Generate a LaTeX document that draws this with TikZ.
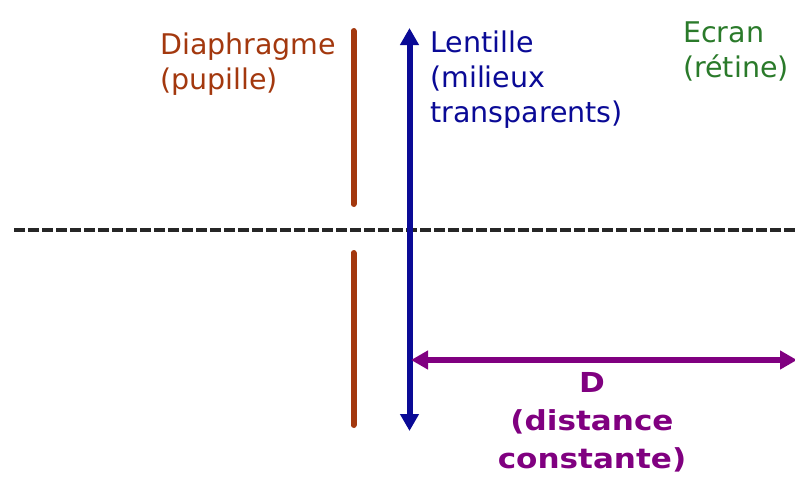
\documentclass[tikz,border=0pt]{standalone}
\usepackage{fontspec}
\setmainfont{DejaVu Sans}
\newfontfamily\dfont[FakeStretch=1.13]{DejaVu Sans}
\usetikzlibrary{arrows.meta}
\definecolor{rust}{HTML}{A3380E}
\definecolor{lensblue}{HTML}{0A0A96}
\definecolor{ecrangreen}{HTML}{2A7A2A}
\definecolor{dpurple}{HTML}{800080}
\definecolor{axisgray}{HTML}{262626}
\begin{document}
\begin{tikzpicture}[x=1pt,y=-1pt,
  lbl/.style={inner sep=0pt, anchor=base west, text width=260pt, align=left,
    font=\fontsize{28.5}{35}\selectfont},
  dlbl/.style={inner sep=0pt, anchor=base, text width=260pt, align=center,
    font=\dfont\bfseries\fontsize{27.5}{38}\selectfont, text=dpurple},
  bar/.style={line width=6pt, line cap=round, rust},
  dbl/.style={line width=6pt, {Triangle[width=18pt,length=17pt]}-{Triangle[width=18pt,length=17pt]}}
]
\useasboundingbox (0,0) rectangle (795,477);
% optical axis
\coordinate (axL) at (14,230);
\coordinate (axR) at (795,230);
\draw[axisgray, line width=3.2pt, dash pattern=on 11pt off 3pt] (axL) -- (axR);
% diaphragm
\coordinate (d1) at (353.5,31);
\coordinate (d2) at (353.5,204);
\coordinate (d3) at (353.5,253);
\coordinate (d4) at (353.5,425);
\draw[bar] (d1) -- (d2);
\draw[bar] (d3) -- (d4);
% lens
\coordinate (lt) at (409.5,28);
\coordinate (lb) at (409.5,431);
\draw[lensblue, dbl] (lb) -- (lt);
% distance
\coordinate (ds) at (411,360);
\coordinate (de) at (797,360);
\draw[dpurple, dbl] (ds) -- (de);
% labels
\node[lbl, text=rust] (tdiaph) at (160,54) {Diaphragme\\(pupille)};
\node[lbl, text=lensblue] (tlens) at (430,52) {Lentille\\(milieux\\transparents)};
\node[lbl, text=ecrangreen] (tecran) at (683,42) {Ecran\\(rétine)};
\node[dlbl] (tdist) at (592,392) {D\\(distance\\constante)};
\end{tikzpicture}
\end{document}
